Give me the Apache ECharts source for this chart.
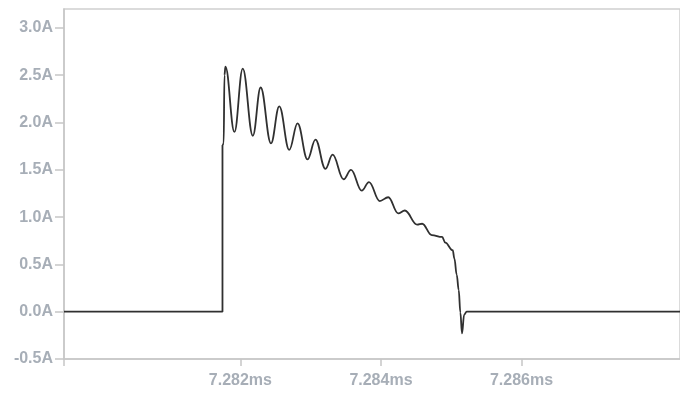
<!DOCTYPE html>
<html>
<head>
<meta charset="utf-8">
<script src="https://cdn.jsdelivr.net/npm/echarts@6/dist/echarts.min.js"></script>
<style>
  html, body { margin: 0; padding: 0; background: #ffffff; }
  #chart { width: 680px; height: 394px; }
</style>
</head>
<body>
<div id="chart"></div>
<script>
// Current waveform: time in ms, current in A
var timeMs = [
  7.27949, 7.281745, 7.281745, 7.281762, 7.281773, 7.281787,
  7.281915, 7.282033, 7.282177, 7.282288, 7.282435, 7.282553,
  7.282695, 7.282813, 7.282955, 7.283068, 7.283210, 7.283312,
  7.283468, 7.283574, 7.283726, 7.283830, 7.283982, 7.284104,
  7.284245, 7.284340, 7.284515, 7.284586, 7.284723, 7.284870,
  7.284915, 7.285021, 7.285045, 7.285078, 7.285106, 7.285130,
  7.285153, 7.285184, 7.285220, 7.288255
];
var currentA = [
  0.00, 0.00, 1.76, 1.78, 2.50, 2.59,
  1.90, 2.57, 1.86, 2.37, 1.78, 2.17,
  1.71, 1.99, 1.61, 1.82, 1.51, 1.66,
  1.40, 1.50, 1.28, 1.37, 1.17, 1.21,
  1.04, 1.07, 0.92, 0.93, 0.81, 0.79,
  0.73, 0.65, 0.56, 0.39, 0.23, -0.01,
  -0.23, -0.03, 0.00, 0.00
];

// Axis ticks and labels
var xLabelValues = [7.282, 7.284, 7.286];
var xMin = 7.27949;
var xMax = 7.288255;
var yMin = -0.5;
var yMax = 3.2;
var yStep = 0.5;

var points = timeMs.map(function (t, i) { return [t, currentA[i]]; });

var labelStyle = {
  color: '#a7aeb7',
  fontFamily: 'Liberation Sans, Arial, sans-serif',
  fontSize: 16,
  fontWeight: 'bold'
};
var axisColor = '#c6c6c6';

var chart = echarts.init(document.getElementById('chart'), null, { renderer: 'canvas' });
chart.setOption({
  animation: false,
  backgroundColor: '#ffffff',
  grid: {
    left: 64, top: 9, right: -2, bottom: 35,
    show: true, borderColor: '#cfcfcf', borderWidth: 1.5
  },
  xAxis: {
    type: 'value',
    min: xMin,
    max: xMax,
    axisLine: { show: true, onZero: false, lineStyle: { color: axisColor, width: 1.5 } },
    axisTick: {
      show: true, length: 7,
      customValues: [xMin].concat(xLabelValues),
      lineStyle: { color: axisColor, width: 1.5 }
    },
    axisLabel: Object.assign({
      customValues: xLabelValues,
      margin: 14,
      formatter: function (v) { return v.toFixed(3) + 'ms'; }
    }, labelStyle),
    splitLine: { show: false }
  },
  yAxis: {
    type: 'value',
    min: yMin,
    max: yMax,
    interval: yStep,
    axisLine: { show: true, onZero: false, lineStyle: { color: axisColor, width: 1.5 } },
    axisTick: { show: true, length: 9, lineStyle: { color: axisColor, width: 1.5 } },
    axisLabel: Object.assign({
      margin: 11,
      showMaxLabel: false,
      formatter: function (v) { return v.toFixed(1) + 'A'; }
    }, labelStyle),
    splitLine: { show: false }
  },
  series: [{
    name: 'Current',
    type: 'line',
    data: points,
    showSymbol: false,
    smooth: 0.4,
    smoothMonotone: 'x',
    lineStyle: { color: '#303030', width: 1.8 },
    z: 3
  }]
});
</script>
</body>
</html>
